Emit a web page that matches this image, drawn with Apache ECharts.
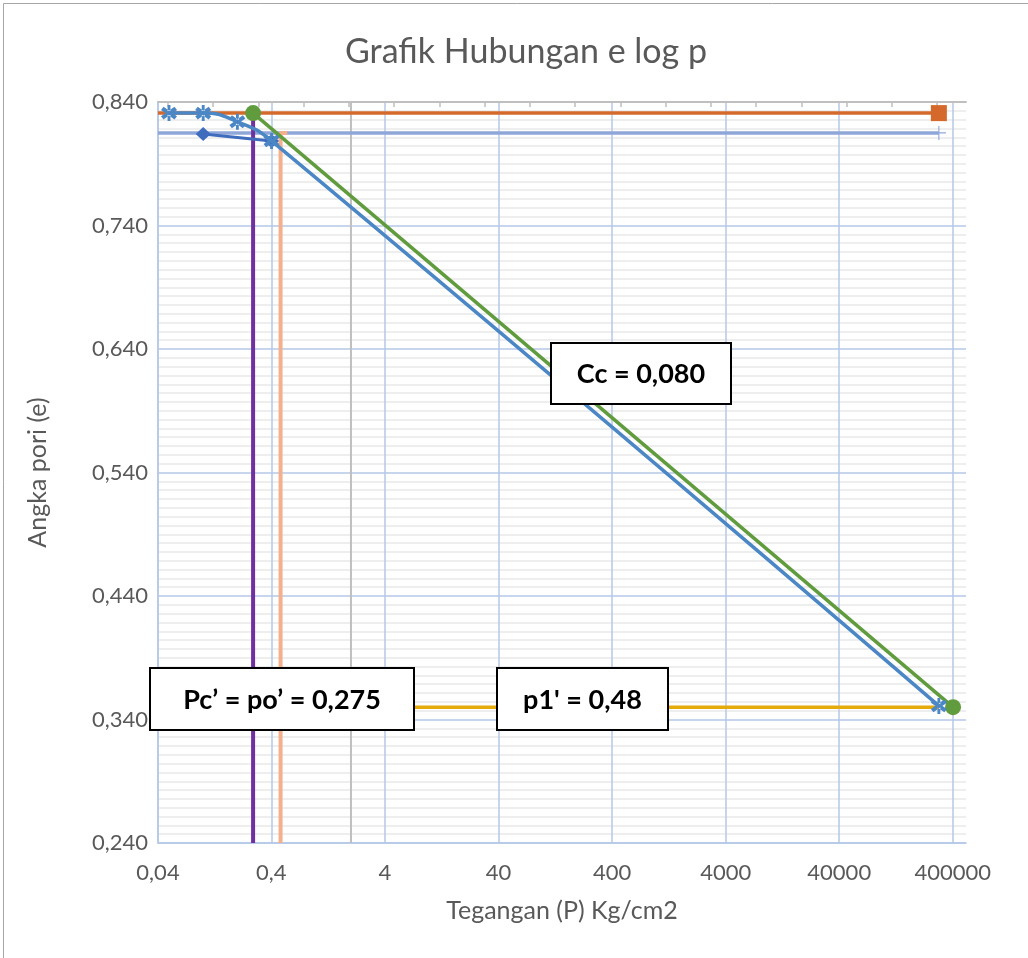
<!DOCTYPE html>
<html>
<head>
<meta charset="utf-8">
<script src="https://cdn.jsdelivr.net/npm/echarts@6/dist/echarts.min.js"></script>
<style>
  html, body { margin: 0; padding: 0; background: #ffffff; }
  #chart { width: 1028px; height: 958px; }
</style>
</head>
<body>
<div id="chart"></div>
<script>
// Consolidation test: void ratio e against log of pressure p (kg/cm2)
const loadP = [0.05, 0.1, 0.2, 0.4, 300000];
const loadE = [0.831, 0.831, 0.824, 0.8085, 0.351];

const reboundP = [0.1, 0.4];
const reboundE = [0.814, 0.8085];

const e0P = [0.04, 300000];
const e0E = [0.831, 0.831];

const e1P = [0.04, 300000];
const e1E = [0.815, 0.815];

const ccP = [0.275, 400000];
const ccE = [0.831, 0.350];

const PC = 0.275;          // preconsolidation pressure Pc'
const pcE = [0.831, 0.240];

const P1 = 0.48;           // p1'
const p1P = [0.55, P1, P1];
const p1E = [0.815, 0.815, 0.240];

const P2 = 2;
const p2E = [0.240, 0.840];

const eEndP = [0.275, 300000];
const eEndE = [0.350, 0.350];

const CC = 0.080;

const xTickLabels = [0.04, 0.4, 4, 40, 400, 4000, 40000, 400000];
const yMin = 0.24, yMax = 0.84, yStep = 0.1;

const FONT = 'Lato, "Open Sans", sans-serif';
const comma = v => String(v).replace('.', ',');
const pairs = (xs, ys) => xs.map((x, i) => [x, ys[i]]);

// symbol paths (20x20 box)
const STAR = 'path://M8.3,0L11.7,0L11.7,20L8.3,20Z M0.5,6L16.5,18L19.5,14L3.5,2Z M3.5,18L19.5,6L16.5,2L0.5,14Z';
const PLUS = 'path://M0,9.2L20,9.2L20,10.8L0,10.8Z M9.2,0L10.8,0L10.8,20L9.2,20Z';

const chart = echarts.init(document.getElementById('chart'), null, { renderer: 'canvas' });

function lineSeries(name, data, color, width, extra) {
  return Object.assign({
    name: name,
    type: 'line',
    data: data,
    symbol: 'none',
    lineStyle: { color: color, width: width },
    itemStyle: { color: color },
    animation: false,
    z: 3
  }, extra || {});
}

function noteBox(x, y, w, h, text) {
  return [
    { type: 'rect', z: 100, silent: true, shape: { x: x, y: y, width: w, height: h },
      style: { fill: '#ffffff', stroke: '#000000', lineWidth: 2 } },
    { type: 'text', z: 101, silent: true,
      style: { text: text, x: x + w / 2, y: y + h / 2 + 1, align: 'center', verticalAlign: 'middle',
        font: 'bold 27px ' + FONT, fill: '#000000' } }
  ];
}

const option = {
  animation: false,
  backgroundColor: '#ffffff',
  title: {
    text: 'Grafik Hubungan e log p',
    left: 521,
    top: 30,
    textAlign: 'center',
    textStyle: { fontFamily: FONT, fontSize: 34, fontWeight: 'normal', color: '#595959' }
  },
  grid: { left: 158, right: 62, top: 102, bottom: 115 },
  xAxis: [
    {
      type: 'log',
      logBase: 10,
      min: xTickLabels[0],
      max: 520000,
      interval: 1,
      position: 'bottom',
      name: 'Tegangan (P) Kg/cm2',
      nameLocation: 'middle',
      nameGap: 55,
      nameTextStyle: { fontFamily: FONT, fontSize: 25, color: '#595959' },
      axisLine: { show: true, lineStyle: { color: '#b4c7e7', width: 1.5 } },
      axisTick: { show: false },
      axisLabel: {
        showMaxLabel: false,
        margin: 19,
        fontFamily: FONT, fontSize: 22, color: '#595959',
        formatter: v => comma(Number(Number(v).toPrecision(1)))
      },
      splitLine: { show: true, showMaxLine: false, lineStyle: { color: '#b4c7e7', width: 1.5 } },
      minorTick: { show: false },
      minorSplitLine: { show: false }
    },
    {
      type: 'value',
      position: 'top',
      min: 0,
      max: 17.86,
      axisLine: { show: true, lineStyle: { color: '#bfbfbf', width: 2 } },
      axisTick: {
        show: true, inside: true, length: 5,
        lineStyle: { color: '#bfbfbf', width: 1.5 },
        customValues: Array.from({ length: 18 }, (_, i) => 0.22 + i)
      },
      axisLabel: { show: false },
      splitLine: { show: false }
    }
  ],
  yAxis: {
    type: 'value',
    min: yMin,
    max: yMax,
    interval: yStep,
    name: 'Angka pori (e)',
    nameLocation: 'middle',
    nameGap: 108,
    nameTextStyle: { fontFamily: FONT, fontSize: 25, color: '#595959' },
    axisLine: { show: true, lineStyle: { color: '#b4c7e7', width: 1.5 } },
    axisTick: { show: false },
    axisLabel: {
      margin: 10,
      fontFamily: FONT, fontSize: 22, color: '#595959',
      formatter: v => Number(v).toFixed(3).replace('.', ',')
    },
    splitLine: { show: true, lineStyle: { color: '#b4c7e7', width: 1.5 } },
    minorTick: { show: false, splitNumber: 14 },
    minorSplitLine: { show: true, lineStyle: { color: '#e9e9e9', width: 1.5 } }
  },
  series: [
    lineSeries('p = 2', pairs([P2, P2], p2E), '#bfbfbf', 2, { z: 2 }),
    lineSeries('e akhir', pairs(eEndP, eEndE), '#e5ab0b', 3.5),
    lineSeries('e0', pairs(e0P, e0E).map((d, i) => i === 0 ? { value: d, symbol: 'none' } : { value: d }),
      '#d4692b', 3.5, { symbol: 'rect', symbolSize: 16, showSymbol: true }),
    lineSeries('e1', pairs(e1P, e1E).map((d, i) => i === 0 ? { value: d, symbol: 'none' } : { value: d }),
      '#8fa6d9', 3.5, { symbol: PLUS, symbolSize: [14, 14], showSymbol: true }),
    lineSeries('Pc\'', pairs([PC, PC], pcE), '#7030a0', 4),
    lineSeries('p1\'', pairs(p1P, p1E), '#f4b08c', 4),
    lineSeries('Cc', pairs(ccP, ccE), '#609b3d', 3.5,
      { symbol: 'circle', symbolSize: 16, showSymbol: true, z: 4 }),
    lineSeries('Rebound', pairs(reboundP, reboundE), '#3f6cbd', 3,
      { symbol: 'diamond', symbolSize: [15, 14], showSymbol: true, z: 5 }),
    lineSeries('Loading', pairs(loadP, loadE), '#4c87c5', 3.5,
      { symbol: STAR, symbolSize: 16, showSymbol: true, smooth: 0.5, z: 6 })
  ],
  graphic: [
    {
      type: 'rect', silent: true, z: 0,
      shape: { x: 3.5, y: 3.5, width: 1100, height: 1100 },
      style: { fill: 'transparent', stroke: '#a6a6a6', lineWidth: 1 }
    }
  ]
    .concat(noteBox(551, 343, 180, 61, 'Cc = ' + CC.toFixed(3).replace('.', ',')))
    .concat(noteBox(150, 668, 264, 62, 'Pc\u2019 = po\u2019 = ' + comma(PC)))
    .concat(noteBox(497, 668, 171, 62, 'p1\' = ' + comma(P1)))
};

chart.setOption(option);
</script>
</body>
</html>
